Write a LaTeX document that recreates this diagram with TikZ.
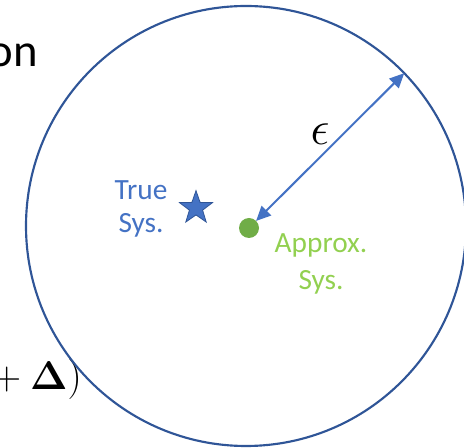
\RequirePackage{fix-cm}
\documentclass[tikz,border=0pt]{standalone}
\usepackage[no-math]{fontspec}
\setmainfont{Carlito}
\usetikzlibrary{arrows.meta,shapes.geometric}
\definecolor{rimblue}{HTML}{2F5597}
\definecolor{midblue}{HTML}{4472C4}
\definecolor{dotgreen}{HTML}{70AD47}
\definecolor{txtgreen}{HTML}{92D050}

\begin{document}
\begin{tikzpicture}[x=0.75pt,y=-0.75pt]
    \tikzstyle{ball}=[circle,draw=rimblue,line width=1.6pt,minimum size=330pt,
        inner sep=0,outer sep=0]
    \tikzstyle{truestar}=[star,star points=5,star point ratio=2.5,fill=midblue,
        draw=rimblue,line width=0.6pt,minimum size=26pt,inner sep=0]
    \tikzstyle{approxdot}=[circle,fill=dotgreen,minimum size=15pt,inner sep=0,outer sep=0]
    \tikzstyle{epsarrow}=[midblue,line width=1.5pt,
        {Triangle[length=11pt,width=10pt]}-{Triangle[length=11pt,width=10pt]}]
    \useasboundingbox (0,0) rectangle (464,448);
    % Cut-off slide text
    \node[anchor=base east,inner sep=0,font=\fontsize{35pt}{42pt}\selectfont] (title) at (38,67) {on};
    \node[anchor=base east,inner sep=0,font=\fontsize{30pt}{36pt}\selectfont] (expr) at (82,390) {${}+\mathbf{\Delta})$};
    % Ball and systems
    \node[ball] (bound) at (246,226) {};
    \node[truestar] (truesys) at (196,208) {};
    \node[approxdot] (approxsys) at (249,228) {};
    % Labels
    \node[anchor=base,align=center,inner sep=0,text=midblue,
        font=\fontsize{22pt}{24.75pt}\selectfont] (truelbl) at (141,233) {True\\Sys.};
    \node[anchor=base,align=center,inner sep=0,text=txtgreen,
        font=\fontsize{22pt}{27.75pt}\selectfont] (approxlbl) at (321,290) {Approx.\\Sys.};
    % Radius
    \coordinate (rim) at (bound.44);
    \draw[epsarrow] (approxsys) -- (rim);
    \node[font=\fontsize{36pt}{42pt}\selectfont] (eps) at (320,134) {$\epsilon$};
\end{tikzpicture}
\end{document}
